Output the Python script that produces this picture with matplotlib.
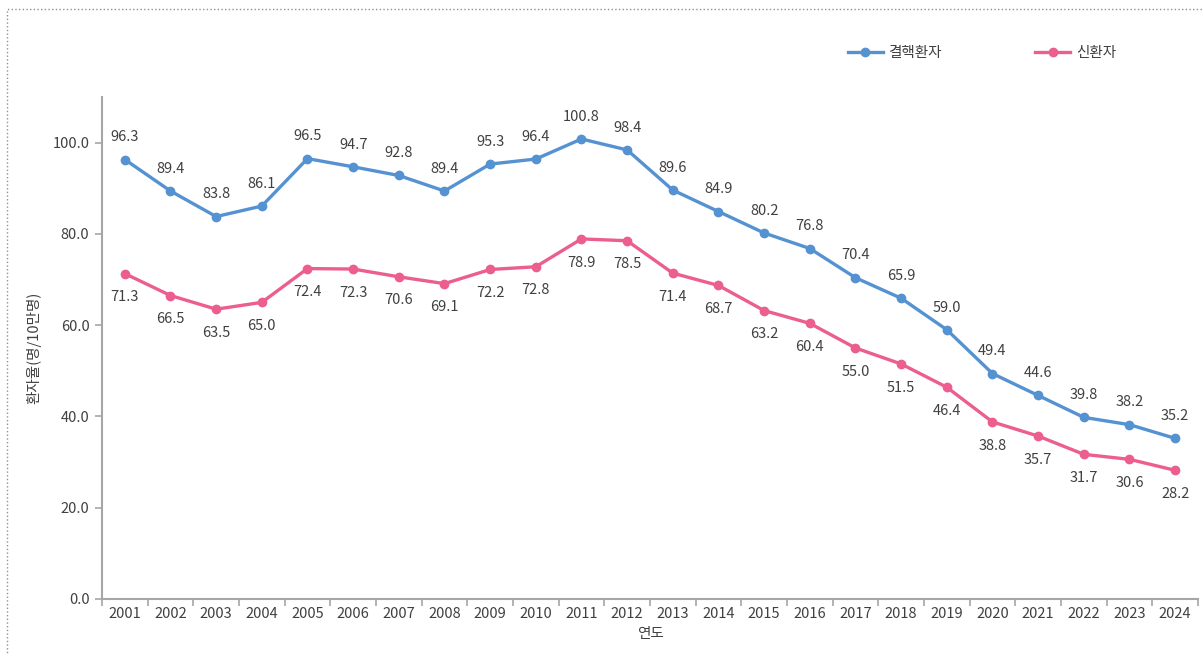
import numpy as np
import matplotlib
matplotlib.use("Agg")
from matplotlib import pyplot as plt
from matplotlib.patches import Rectangle

plt.rcParams['font.family'] = ['Noto Sans CJK KR', 'DejaVu Sans']

years = [str(y) for y in range(2001, 2025)]
tb_patients = [96.3, 89.4, 83.8, 86.1, 96.5, 94.7, 92.8, 89.4, 95.3, 96.4, 100.8, 98.4,
               89.6, 84.9, 80.2, 76.8, 70.4, 65.9, 59.0, 49.4, 44.6, 39.8, 38.2, 35.2]
new_patients = [71.3, 66.5, 63.5, 65.0, 72.4, 72.3, 70.6, 69.1, 72.2, 72.8, 78.9, 78.5,
                71.4, 68.7, 63.2, 60.4, 55.0, 51.5, 46.4, 38.8, 35.7, 31.7, 30.6, 28.2]
series_names = ['결핵환자', '신환자']

blue = '#5592D2'
pink = '#EB5E8F'
txt = '#404040'
gray = '#A6A6A6'

fig = plt.figure(figsize=(12.04, 6.54), dpi=100)
ax = fig.add_axes([0.0847, 0.0841, 0.9103, 0.7676])

x = np.arange(len(years))
ax.plot(x, tb_patients, color=blue, lw=2.4, marker='o', ms=6, label=series_names[0])
ax.plot(x, new_patients, color=pink, lw=2.4, marker='o', ms=6, label=series_names[1])

# value labels: blue above, pink below
for i in range(len(years)):
    ax.annotate(f'{tb_patients[i]:.1f}', (x[i], tb_patients[i]), xytext=(0, 16),
                textcoords='offset points', ha='center', va='center', fontsize=10.5, color=txt)
    ax.annotate(f'{new_patients[i]:.1f}', (x[i], new_patients[i]), xytext=(0, -17),
                textcoords='offset points', ha='center', va='center', fontsize=10.5, color=txt)

ax.set_xlim(-0.5, len(years) - 0.5)
ax.set_ylim(0, 110)
ax.set_yticks(np.arange(0, 101, 20))
ax.set_yticklabels([f'{v:.1f}' for v in np.arange(0, 101, 20)])
ax.set_xticks(x)
ax.set_xticklabels(years)
ax.set_xticks(np.arange(-0.5, len(years)), minor=True)
ax.tick_params(axis='x', which='major', length=0, pad=6, labelsize=10.5, labelcolor=txt)
ax.tick_params(axis='x', which='minor', length=5, color=gray, width=1.2)
ax.tick_params(axis='y', length=5, color=gray, width=1.2, labelsize=10.5, labelcolor=txt, pad=4)

for s in ['top', 'right']:
    ax.spines[s].set_visible(False)
for s in ['left', 'bottom']:
    ax.spines[s].set_color(gray)
    ax.spines[s].set_linewidth(1.5)

ax.set_ylabel('환자율(명/10만명)', fontsize=10.5, color=txt, labelpad=8)
ax.set_xlabel('연도', fontsize=10.5, color=txt, labelpad=4)

fig.legend(loc='center left', bbox_to_anchor=(0.704, 0.919), ncol=2, frameon=False,
           fontsize=10.5, handlelength=2.4, columnspacing=6.4, handletextpad=0.4,
           borderpad=0, borderaxespad=0, labelcolor=txt)

# dotted frame around the figure
fig.patches.append(Rectangle((0.0058, -0.01), 1.0, 0.996, transform=fig.transFigure,
                             fill=False, edgecolor='#909090', linestyle=':', lw=1.0))

fig.savefig('out.png', dpi=100)
